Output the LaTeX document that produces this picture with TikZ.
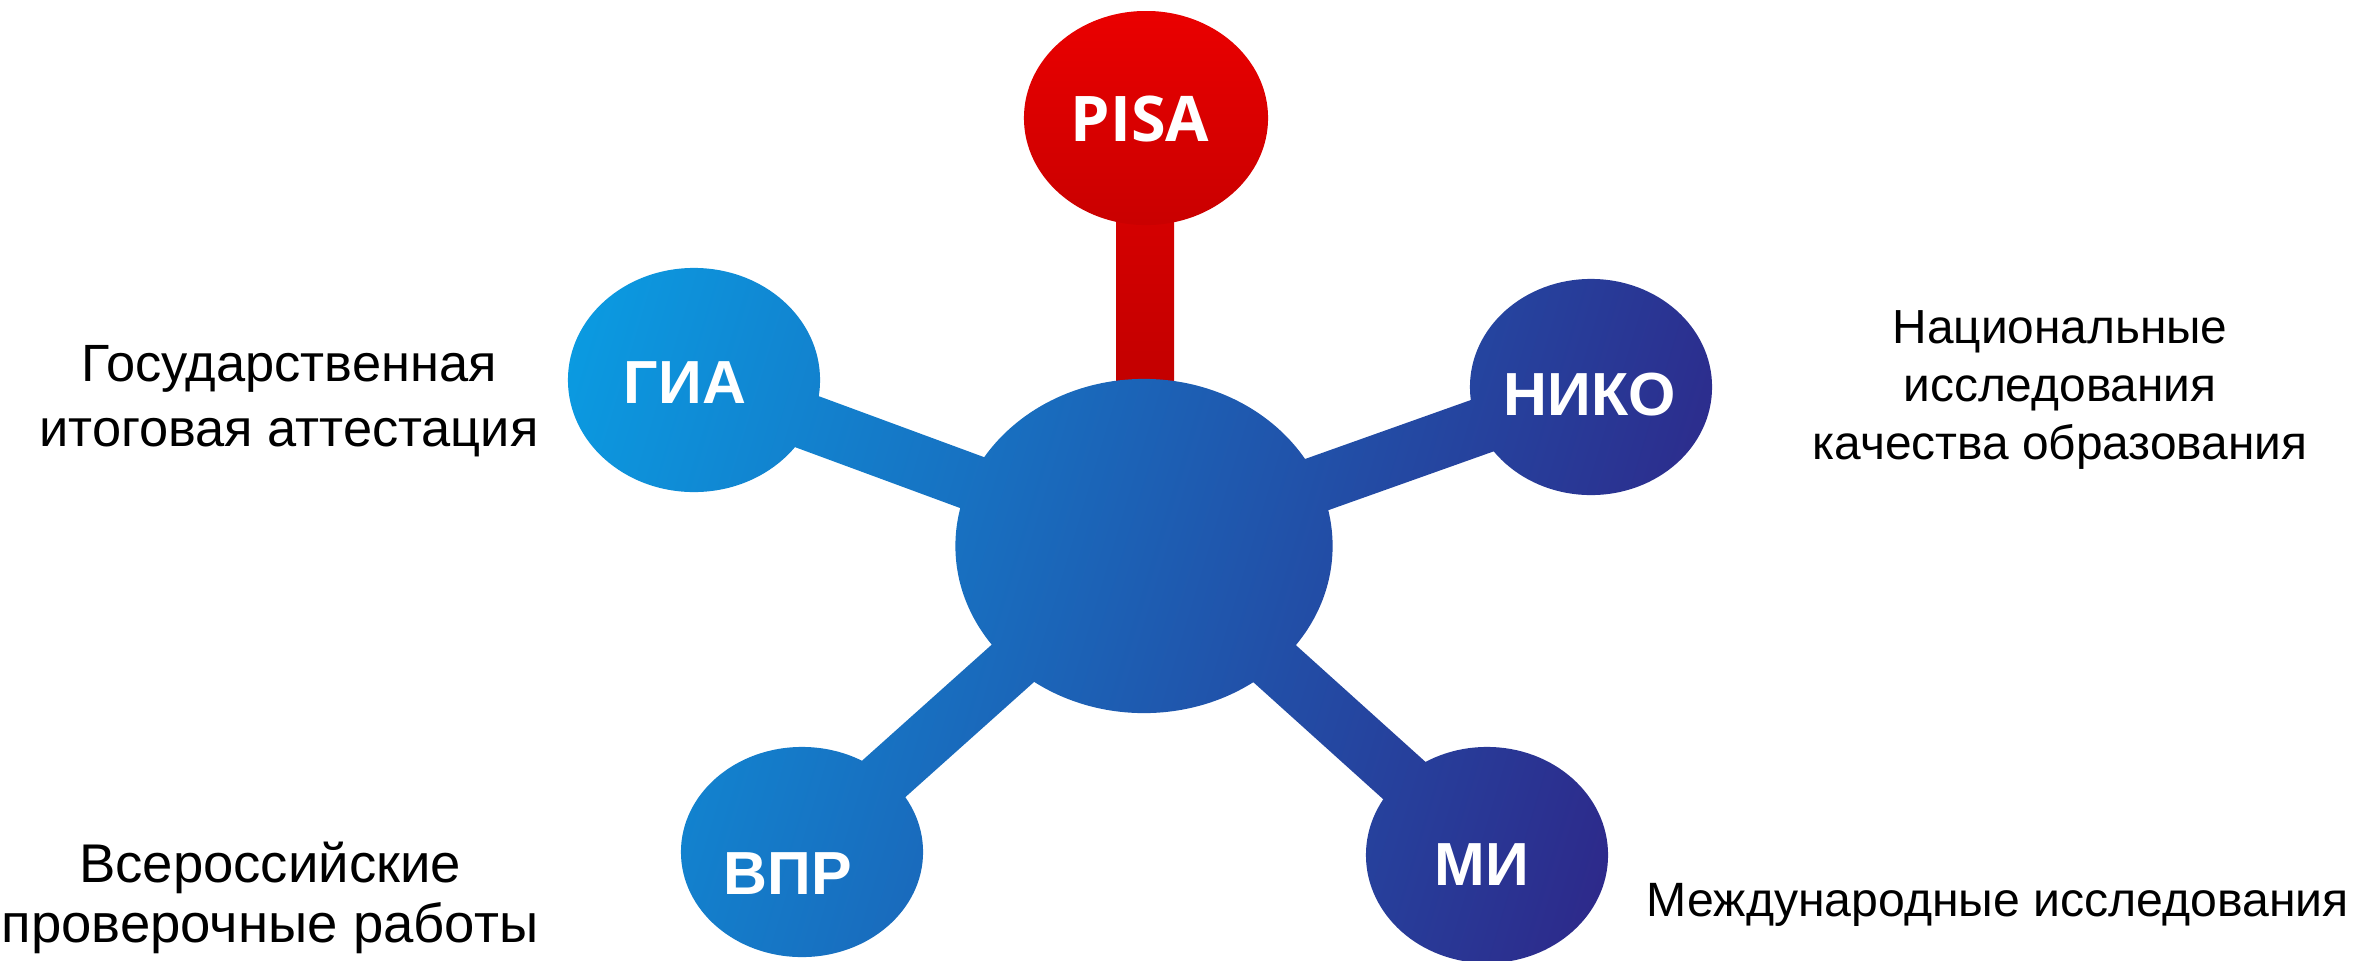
\documentclass[tikz,border=0pt]{standalone}
\usepackage{fontspec}
\usepackage{xcolor}
\usepackage{tikz}
\usetikzlibrary{shapes.geometric,backgrounds,calc}

\setmainfont{Liberation Sans}
\newfontfamily\pisafont{Open Sans}

\definecolor{molLight}{HTML}{0A9DE3}
\definecolor{molDark}{HTML}{311D81}
\definecolor{pisaTop}{HTML}{EA0000}
\definecolor{pisaBottom}{HTML}{B20000}

\begin{document}
\begin{tikzpicture}[x=0.01cm, y=-0.01cm,
    molshade/.style={path picture={
      \shade[top color=molLight, bottom color=molDark, shading angle=73.3]
        (glow) rectangle (ghigh);}},
    redshade/.style={path picture={
      \shade[top color=pisaTop, bottom color=pisaBottom] (rlow) rectangle (rhigh);}},
    blob/.style={ellipse, inner sep=0pt, molshade},
    tag/.style={text=white, inner sep=0pt, font=\fontsize{17.3}{20}\selectfont\bfseries},
    note/.style={align=center, inner sep=0pt, text=black}]
    % Slide frame
    \useasboundingbox (0,0) rectangle (2354,960);
    \coordinate (glow) at (425,180);
    \coordinate (ghigh) at (1855,1050);
    \coordinate (rlow) at (1000,11);
    \coordinate (rhigh) at (1300,380);

    % Hub and satellites
    \node[blob, minimum width=3.77cm, minimum height=3.34cm] (hub) at (1144,546) {};
    \node[ellipse, inner sep=0pt, redshade, minimum width=2.44cm, minimum height=2.14cm]
      (pisa) at (1146,118) {};
    \node[blob, minimum width=2.52cm, minimum height=2.24cm] (gia) at (694,380) {};
    \node[blob, minimum width=2.42cm, minimum height=2.16cm] (niko) at (1591,387) {};
    \node[blob, minimum width=2.42cm, minimum height=2.10cm] (vpr) at (802,852) {};
    \node[blob, minimum width=2.42cm, minimum height=2.16cm] (mi) at (1487,855) {};

    % Arms behind the blobs
    \begin{scope}[on background layer]
      \foreach \s in {gia,niko,vpr,mi}
        \path[molshade] ($(\s.center)!0.28cm!90:(hub.center)$)
          -- ($(hub.center)!0.28cm!-90:(\s.center)$)
          -- ($(hub.center)!0.28cm!90:(\s.center)$)
          -- ($(\s.center)!0.28cm!-90:(hub.center)$) -- cycle;
      \path[redshade] ($(pisa.center)+(-30,0)$) rectangle ($(hub.center)+(30,0)$);
    \end{scope}

    % Short names
    \node[tag, font=\pisafont\fontsize{17.9}{20}\selectfont\bfseries] (pisaName) at (1140,119) {PISA};
    \node[tag] (giaName) at (685,383) {ГИА};
    \node[tag] (nikoName) at (1590,395) {НИКО};
    \node[tag] (vprName) at (788,874) {ВПР};
    \node[tag] (miName) at (1482,865) {МИ};

    % Full names
    \node[note, font=\fontsize{14.9}{18.4}\selectfont] (giaNote) at (289,401)
      {Государственная\\итоговая аттестация};
    \node[note, font=\fontsize{13.6}{16.5}\selectfont] (nikoNote) at (2060,390)
      {Национальные\\исследования\\качества образования};
    \node[note, font=\fontsize{15.5}{17.1}\selectfont] (vprNote) at (270,898)
      {Всероссийские\\проверочные работы};
    \node[note, anchor=base, font=\fontsize{13.7}{16}\selectfont] (miNote) at (1998,916)
      {Международные исследования};
\end{tikzpicture}
\end{document}
